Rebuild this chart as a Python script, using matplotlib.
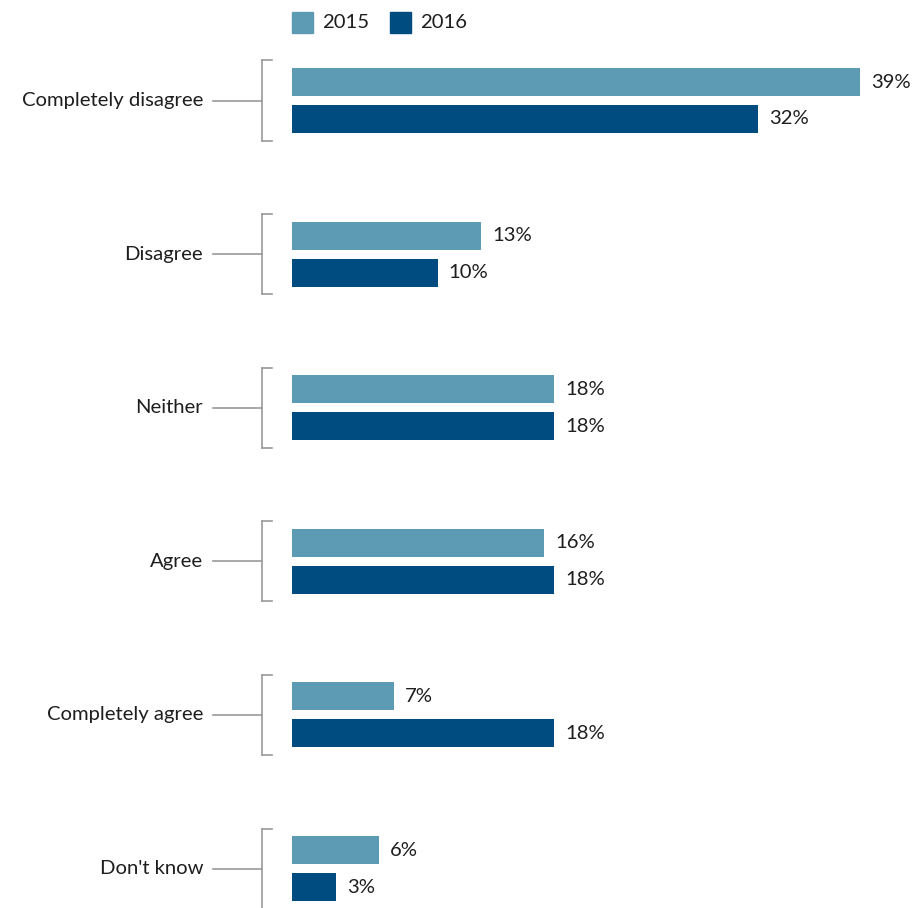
import matplotlib.pyplot as plt
from matplotlib.patches import Rectangle

# data
categories = ['Completely disagree', 'Disagree', 'Neither', 'Agree',
              'Completely agree', "Don't know"]
values_2015 = [39, 13, 18, 17.3, 7, 6]   # bar lengths as drawn
values_2016 = [32, 10, 18, 18, 18, 3]
labels_2015 = ['39%', '13%', '18%', '16%', '7%', '6%']
labels_2016 = ['32%', '10%', '18%', '18%', '18%', '3%']
series_names = ['2015', '2016']

c15 = '#5d9bb5'
c16 = '#004b80'
grey = '#9a9a9a'
txt = '#1e1e1e'

plt.rcParams['font.family'] = ['Lato', 'DejaVu Sans']

W, H = 917, 908
fig = plt.figure(figsize=(W / 100, H / 100), dpi=100)

# axes starts where bars start, spans full height
x0 = 292
px_per_pct = 14.56
xmax = 42
ax = fig.add_axes([x0 / W, 0, xmax * px_per_pct / W, 1])
ax.set_xlim(0, xmax)

step = 153.6            # px between group centres
top = 100.5             # px of first group centre
ax.set_ylim(5 + (H - top - 5 * step) / step, -top / step)
ax.axis('off')

def px(n):
    return n / px_per_pct

def py(n):
    return n / step

off = py(18.5)
bh = py(28)
ypos = list(range(len(categories)))

ax.barh([y - off for y in ypos], values_2015, height=bh, color=c15)
ax.barh([y + off for y in ypos], values_2016, height=bh, color=c16)

fs = 14.6
for y, v, l in zip(ypos, values_2015, labels_2015):
    ax.text(v + px(11), y - off, l, va='center', ha='left', fontsize=fs, color=txt)
for y, v, l in zip(ypos, values_2016, labels_2016):
    ax.text(v + px(11), y + off, l, va='center', ha='left', fontsize=fs, color=txt)

# brackets and category labels
bx = px(-30)
for y, cat in zip(ypos, categories):
    ax.plot([bx, bx], [y - py(40), y + py(40)], color=grey, lw=1.2, clip_on=False)
    ax.plot([bx, bx + px(10)], [y - py(40), y - py(40)], color=grey, lw=1.2, clip_on=False)
    ax.plot([bx, bx + px(10)], [y + py(40), y + py(40)], color=grey, lw=1.2, clip_on=False)
    ax.plot([px(-79), bx], [y, y], color=grey, lw=1.2, clip_on=False)
    ax.text(px(-89), y, cat, ha='right', va='center', fontsize=fs, color=txt, clip_on=False)

# legend
for xl, col, name in [(292, c15, series_names[0]), (390, c16, series_names[1])]:
    fig.patches.append(Rectangle((xl / W, 1 - 33 / H), 21 / W, 21 / H,
                                 transform=fig.transFigure, color=col))
    fig.text((xl + 30) / W, 1 - 22.5 / H, name, ha='left', va='center',
             fontsize=fs, color=txt)

fig.savefig('out.png', dpi=100)
